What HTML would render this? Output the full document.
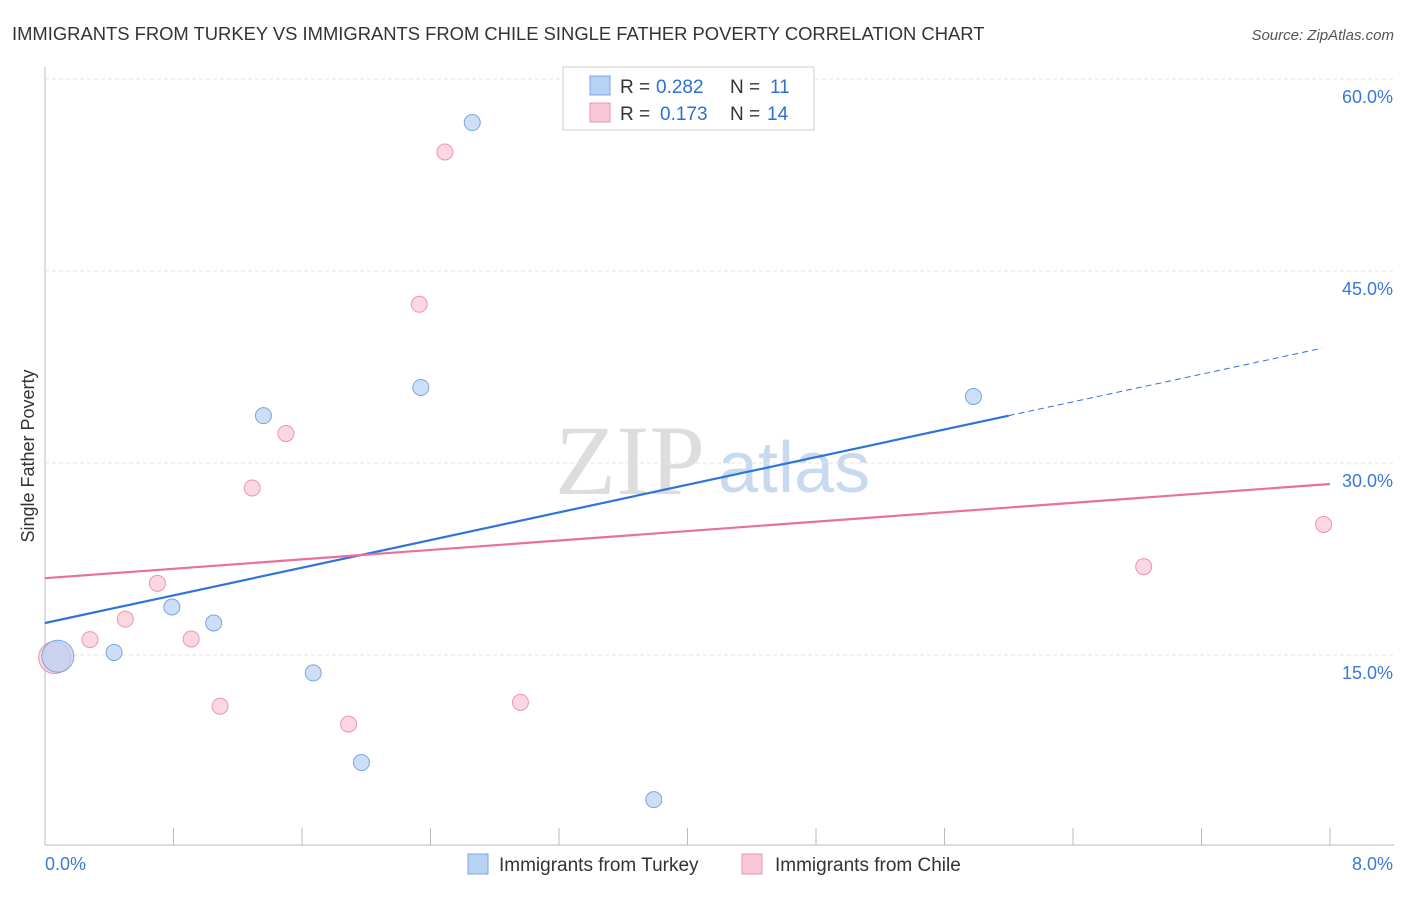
<!DOCTYPE html>
<html><head><meta charset="utf-8"><style>
body{margin:0;background:#fff;font-family:"Liberation Sans",sans-serif}
svg text{font-family:"Liberation Sans",sans-serif}
</style></head><body>
<svg id="c" width="1406" height="892" xmlns="http://www.w3.org/2000/svg">
<text x="12" y="40" font-size="18.4" fill="#333">IMMIGRANTS FROM TURKEY VS IMMIGRANTS FROM CHILE SINGLE FATHER POVERTY CORRELATION CHART</text>
<text x="1394" y="40" font-size="15" fill="#555" font-style="italic" text-anchor="end">Source: ZipAtlas.com</text>
<text x="555" y="494" font-size="100" fill="#ddd" style="font-family:'Liberation Serif',serif">ZIP</text>
<text x="718" y="492" font-size="72" fill="#c9daf0">atlas</text>
<text transform="translate(34,456) rotate(-90)" font-size="18" fill="#333" text-anchor="middle">Single Father Poverty</text>
<g id="grid"></g><g id="lines"></g><g id="pts"></g>
<g>
<rect x="563" y="67" width="251" height="63" fill="#fff" stroke="#ccc"/>
<rect x="590" y="76" width="20" height="19" fill="#b8d2f4" stroke="#7aa5e0"/>
<rect x="590" y="103" width="20" height="19" fill="#f9c6d6" stroke="#ec95b0"/>
<text x="620" y="93" font-size="19" fill="#333">R = <tspan x="656" fill="#2f6fd0">0.282</tspan></text>
<text x="730" y="93" font-size="19" fill="#333">N = <tspan x="770" fill="#2f6fd0">11</tspan></text>
<text x="620" y="120" font-size="19" fill="#333">R = <tspan x="660" fill="#2f6fd0">0.173</tspan></text>
<text x="730" y="120" font-size="19" fill="#333">N = <tspan x="767" fill="#2f6fd0">14</tspan></text>
</g>
<g>
<rect x="468" y="854" width="20" height="20" fill="#b8d2f4" stroke="#7aa5e0"/>
<text x="499" y="871" font-size="19" fill="#333">Immigrants from Turkey</text>
<rect x="742" y="854" width="20" height="20" fill="#f9c6d6" stroke="#ec95b0"/>
<text x="775" y="871" font-size="19" fill="#333">Immigrants from Chile</text>
</g>
</svg>
<script>
const turkeyX=[0.08,0.43,0.79,1.05,1.36,1.67,1.97,2.34,2.66,3.79,5.78];
const turkeyY=[14.9,15.2,18.75,17.5,33.7,13.6,6.6,35.9,56.6,3.7,35.2];
const turkeyR=[16,8,8,8,8,8,8,8,8,8,8];
const chileX=[0.06,0.28,0.5,0.7,0.91,1.09,1.29,1.5,1.89,2.33,2.49,2.96,6.84,7.96];
const chileY=[14.8,16.2,17.8,20.6,16.25,11.0,28.05,32.3,9.6,42.4,54.3,11.3,21.9,25.2];
const chileR=[16,8,8,8,8,8,8,8,8,8,8,8,8,8];
const turkeyTrend=[17.5,2.7];
const turkeyTrendSolidEnd=6.0, turkeyTrendEnd=7.95;
const chileTrend=[21.0,0.92];
const yTicks=[15,30,45,60];
const yTickLabels=["15.0%","30.0%","45.0%","60.0%"];
const xTickCount=10;
const xLabels=["0.0%","8.0%"];
const NS="http://www.w3.org/2000/svg";
const X=v=>45+v/8*1285, Y=v=>847-v/15*192;
function mk(t,a,p){const e=document.createElementNS(NS,t);for(const k in a)e.setAttribute(k,a[k]);document.getElementById(p).appendChild(e);return e;}
const g='grid';
let ax=mk('line',{x1:45,y1:67,x2:45,y2:845,stroke:'#bbb'},g);


let bx=mk('line',{x1:45,y1:845,x2:1394,y2:845,stroke:'#bbb'},g);


yTicks.forEach((t,i)=>{
 let l=mk('line',{x1:45,y1:Y(t),x2:1394,y2:Y(t),stroke:'#e3e3e3','stroke-dasharray':'4,3'},g);
 
 
 let tx=mk('text',{x:1393,y:Y(t)+24,'font-size':18,fill:'#3b78d8','text-anchor':'end'},g);tx.textContent=yTickLabels[i];
 
 
});
for(let i=1;i<=xTickCount;i++){
 let l=mk('line',{x1:X(i*0.8),y1:828,x2:X(i*0.8),y2:845,stroke:'#bbb'},g);
 
 
}
let xl0=mk('text',{x:45,y:870,'font-size':18,fill:'#3b78d8'},g);xl0.textContent=xLabels[0];


let xl1=mk('text',{x:1393,y:870,'font-size':18,fill:'#3b78d8','text-anchor':'end'},g);xl1.textContent=xLabels[1];


const ty=x=>turkeyTrend[0]+turkeyTrend[1]*x, cy=x=>chileTrend[0]+chileTrend[1]*x;
let tl=mk('line',{x1:X(0),y1:Y(ty(0)),x2:X(turkeyTrendSolidEnd),y2:Y(ty(turkeyTrendSolidEnd)),stroke:'#2f74d8','stroke-width':2.2},'lines');


let td=mk('line',{x1:X(turkeyTrendSolidEnd),y1:Y(ty(turkeyTrendSolidEnd)),x2:X(turkeyTrendEnd),y2:Y(ty(turkeyTrendEnd)),stroke:'#2f74d8','stroke-width':1,'stroke-dasharray':'6,4'},'lines');


let cl=mk('line',{x1:X(0),y1:Y(cy(0)),x2:X(8),y2:Y(cy(8)),stroke:'#e8709a','stroke-width':2.2},'lines');


chileX.forEach((x,i)=>{
 let c=mk('circle',{cx:X(x),cy:Y(chileY[i]),r:chileR[i],fill:'#f9c6d6','fill-opacity':0.7,stroke:'#ec95b0'},'pts');
 
 
});
turkeyX.forEach((x,i)=>{
 let c=mk('circle',{cx:X(x),cy:Y(turkeyY[i]),r:turkeyR[i],fill:'#b8d2f4','fill-opacity':0.7,stroke:'#7aa5e0'},'pts');
 
 
});
</script>
</body></html>
